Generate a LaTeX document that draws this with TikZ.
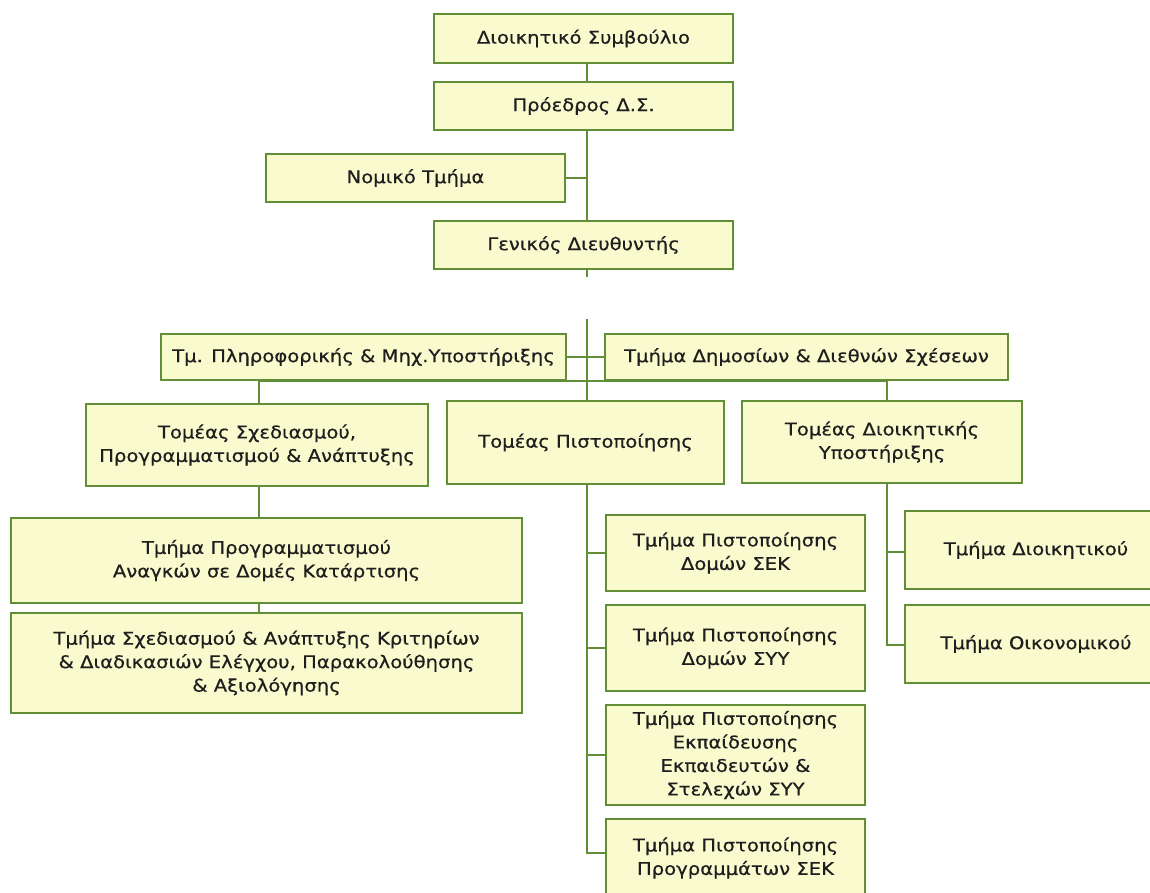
\documentclass[tikz,border=0pt]{standalone}
\usepackage{fontspec}
\setmainfont[FakeStretch=1.12,FakeBold=0.6]{DejaVu Sans}
\definecolor{boxfill}{RGB}{250,250,207}
\definecolor{boxline}{RGB}{98,142,55}
\definecolor{txt}{RGB}{30,30,30}
\begin{document}
\begin{tikzpicture}[x=1pt,y=-1pt,
  box/.style={draw=boxline, line width=2pt, fill=boxfill, anchor=north west, inner sep=0pt,
    align=center, text=txt, font=\fontsize{17.5}{23.5}\selectfont},
  conn/.style={draw=boxline, line width=2pt}]
\useasboundingbox (0,0) rectangle (1150,893);
\fill[white] (0,0) rectangle (1150,893);
% spine coordinates
\coordinate (xm) at (587,0);
\coordinate (xs) at (259,0);
\coordinate (xd) at (887,0);
% nodes
\node[box, minimum width=299pt, minimum height=49pt] (ds) at (433,13) {Διοικητικό Συμβούλιο};
\node[box, minimum width=299pt, minimum height=48pt] (pr) at (433,81) {Πρόεδρος Δ.Σ.};
\node[box, minimum width=299pt, minimum height=48pt] (nt) at (265,153) {Νομικό Τμήμα};
\node[box, minimum width=299pt, minimum height=48pt] (gd) at (433,220) {Γενικός Διευθυντής};
\node[box, minimum width=405pt, minimum height=46pt] (pl) at (160,333) {Τμ. Πληροφορικής \& Μηχ.Υποστήριξης};
\node[box, minimum width=403pt, minimum height=46pt] (dm) at (604,333) {Τμήμα Δημοσίων \& Διεθνών Σχέσεων};
\node[box, minimum width=342pt, minimum height=82pt] (ts) at (85,403) {Τομέας Σχεδιασμού,\\Προγραμματισμού \& Ανάπτυξης};
\node[box, minimum width=277pt, minimum height=83pt] (tp) at (446,400) {Τομέας Πιστοποίησης};
\node[box, minimum width=280pt, minimum height=82pt] (td) at (741,400) {Τομέας Διοικητικής\\Υποστήριξης};
\node[box, minimum width=511pt, minimum height=85pt] (s1) at (10,517) {Τμήμα Προγραμματισμού\\Αναγκών σε Δομές Κατάρτισης};
\node[box, minimum width=511pt, minimum height=100pt] (s2) at (10,612) {Τμήμα Σχεδιασμού \& Ανάπτυξης Κριτηρίων\\\& Διαδικασιών Ελέγχου, Παρακολούθησης\\\& Αξιολόγησης};
\node[box, minimum width=259pt, minimum height=76pt] (c1) at (605,514) {Τμήμα Πιστοποίησης\\Δομών ΣΕΚ};
\node[box, minimum width=259pt, minimum height=86pt] (c2) at (605,604) {Τμήμα Πιστοποίησης\\Δομών ΣΥΥ};
\node[box, minimum width=259pt, minimum height=100pt] (c3) at (605,704) {Τμήμα Πιστοποίησης\\Εκπαίδευσης\\Εκπαιδευτών \&\\Στελεχών ΣΥΥ};
\node[box, minimum width=259pt, minimum height=78pt] (c4) at (605,818) {Τμήμα Πιστοποίησης\\Προγραμμάτων ΣΕΚ};
\node[box, minimum width=262pt, minimum height=78pt] (d1) at (904,510) {Τμήμα Διοικητικού};
\node[box, minimum width=262pt, minimum height=78pt] (d2) at (904,604) {Τμήμα Οικονομικού};
% connector coordinates
\coordinate (gdend) at (587,277);
\coordinate (top2) at (587,319);
\coordinate (bar) at (587,381);
\coordinate (tpb) at (587,853);
\coordinate (tdb) at (887,645);
\coordinate (yd1) at (0,552);
% connectors
\draw[conn] (ds.south -| xm) -- (pr.north -| xm);
\draw[conn] (pr.south -| xm) -- (gd.north -| xm);
\draw[conn] (nt.east) -- (nt.east -| xm);
\draw[conn] (gd.south -| xm) -- (gdend);
\draw[conn] (top2) -- (tp.north -| xm);
\draw[conn] (pl.east) -- (dm.west);
\draw[conn] (ts.north -| xs) -- (bar -| xs) -- (bar -| xd) -- (td.north -| xd);
\draw[conn] (ts.south -| xs) -- (s1.north -| xs);
\draw[conn] (s1.south -| xs) -- (s2.north -| xs);
\draw[conn] (tp.south -| xm) -- (tpb) -- (tpb -| c4.west);
\draw[conn] (c1.west -| xm) -- (c1.west);
\draw[conn] (c2.west -| xm) -- (c2.west);
\draw[conn] (c3.west -| xm) -- (c3.west);
\draw[conn] (td.south -| xd) -- (tdb) -- (tdb -| d2.west);
\draw[conn] (yd1 -| xd) -- (yd1 -| d1.west);
\end{tikzpicture}
\end{document}
